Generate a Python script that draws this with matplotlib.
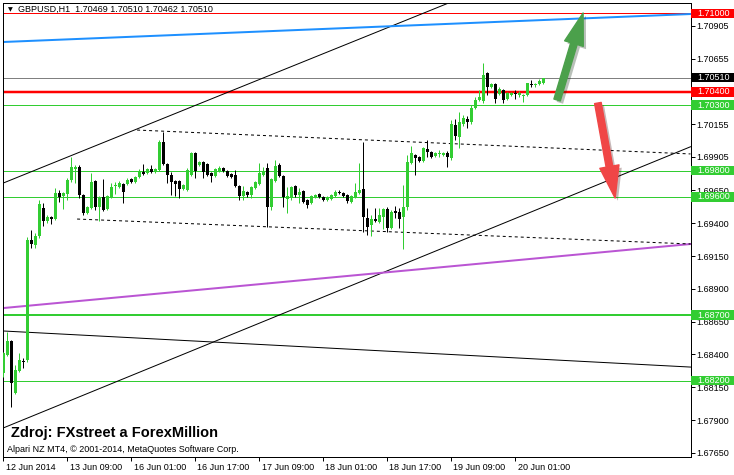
import numpy as np
import matplotlib.pyplot as plt
from matplotlib.patches import Rectangle, FancyArrowPatch
from matplotlib.transforms import blended_transform_factory, ScaledTranslation
import matplotlib.patheffects as pe

plt.rcParams['font.family'] = ['Liberation Sans', 'DejaVu Sans']

# GBPUSD H1 candles, one bar per hour
opens = [1.68259, 1.68396, 1.68503, 1.68106, 1.68274, 1.68350, 1.68358, 1.69272, 1.69234, 1.69303,
         1.69516, 1.69417, 1.69447, 1.69432, 1.69630, 1.69607, 1.69623, 1.69729, 1.69813, 1.69828,
         1.69615, 1.69478, 1.69516, 1.69722, 1.69524, 1.69600, 1.69508, 1.69600, 1.69684, 1.69676,
         1.69699, 1.69699, 1.69737, 1.69714, 1.69752, 1.69790, 1.69783, 1.69813, 1.69790, 1.69806,
         1.70019, 1.69851, 1.69767, 1.69722, 1.69722, 1.69661, 1.69653, 1.69767, 1.69935, 1.69844,
         1.69866, 1.69851, 1.69783, 1.69760, 1.69798, 1.69821, 1.69798, 1.69775, 1.69767, 1.69684,
         1.69607, 1.69638, 1.69615, 1.69668, 1.69699, 1.69767, 1.69821, 1.69524, 1.69722, 1.69844,
         1.69760, 1.69585, 1.69600, 1.69684, 1.69615, 1.69646, 1.69577, 1.69554, 1.69600, 1.69623,
         1.69600, 1.69577, 1.69585, 1.69607, 1.69638, 1.69630, 1.69615, 1.69562, 1.69600, 1.69630,
         1.69661, 1.69440, 1.69386, 1.69432, 1.69409, 1.69447, 1.69508, 1.69364, 1.69493, 1.69485,
         1.69447, 1.69524, 1.69859, 1.69920, 1.69905, 1.69874, 1.69966, 1.69943, 1.69912, 1.69928,
         1.69920, 1.69935, 1.69897, 1.70149, 1.70057, 1.70156, 1.70194, 1.70171, 1.70278, 1.70339,
         1.70331, 1.70545, 1.70438, 1.70461, 1.70385, 1.70415, 1.70347, 1.70377, 1.70392, 1.70377,
         1.70369, 1.70377, 1.70461, 1.70453, 1.70461, 1.70469]
highs = [1.68419, 1.68571, 1.68510, 1.68320, 1.68411, 1.68373, 1.69295, 1.69348, 1.69326, 1.69577,
         1.69554, 1.69463, 1.69455, 1.69668, 1.69653, 1.69638, 1.69745, 1.69905, 1.69844, 1.69844,
         1.69623, 1.69531, 1.69783, 1.69729, 1.69607, 1.69737, 1.69615, 1.69707, 1.69714, 1.69722,
         1.69707, 1.69745, 1.69745, 1.69760, 1.69813, 1.69851, 1.69821, 1.69844, 1.69821, 1.70034,
         1.70095, 1.69859, 1.69790, 1.69729, 1.69729, 1.69699, 1.69821, 1.69943, 1.69943, 1.69874,
         1.69874, 1.69859, 1.69790, 1.69821, 1.69836, 1.69828, 1.69806, 1.69783, 1.69806, 1.69691,
         1.69684, 1.69646, 1.69684, 1.69722, 1.69859, 1.69828, 1.69859, 1.69745, 1.69882, 1.69859,
         1.69767, 1.69676, 1.69684, 1.69691, 1.69668, 1.69653, 1.69585, 1.69615, 1.69623, 1.69630,
         1.69607, 1.69607, 1.69623, 1.69653, 1.69653, 1.69638, 1.69623, 1.69615, 1.69707, 1.69859,
         1.70019, 1.69516, 1.69463, 1.69516, 1.69516, 1.69516, 1.69524, 1.69501, 1.69531, 1.69516,
         1.69691, 1.69920, 1.69988, 1.69928, 1.69912, 1.69981, 1.70034, 1.69950, 1.69943, 1.69958,
         1.69943, 1.69950, 1.70187, 1.70194, 1.70248, 1.70225, 1.70217, 1.70301, 1.70362, 1.70415,
         1.70621, 1.70552, 1.70469, 1.70469, 1.70438, 1.70423, 1.70400, 1.70400, 1.70415, 1.70408,
         1.70385, 1.70469, 1.70491, 1.70469, 1.70499, 1.70510]
lows = [1.68228, 1.68388, 1.68000, 1.68099, 1.68266, 1.68297, 1.68343, 1.69211, 1.69211, 1.69287,
        1.69379, 1.69402, 1.69394, 1.69425, 1.69562, 1.69508, 1.69577, 1.69714, 1.69707, 1.69592,
        1.69463, 1.69470, 1.69508, 1.69501, 1.69417, 1.69493, 1.69501, 1.69592, 1.69623, 1.69668,
        1.69554, 1.69691, 1.69707, 1.69707, 1.69745, 1.69767, 1.69775, 1.69783, 1.69783, 1.69798,
        1.69844, 1.69707, 1.69615, 1.69607, 1.69592, 1.69653, 1.69646, 1.69760, 1.69745, 1.69836,
        1.69745, 1.69760, 1.69714, 1.69752, 1.69790, 1.69790, 1.69752, 1.69745, 1.69676, 1.69577,
        1.69577, 1.69600, 1.69592, 1.69661, 1.69691, 1.69760, 1.69371, 1.69501, 1.69714, 1.69752,
        1.69524, 1.69478, 1.69577, 1.69600, 1.69554, 1.69554, 1.69516, 1.69546, 1.69592, 1.69592,
        1.69569, 1.69569, 1.69577, 1.69600, 1.69623, 1.69600, 1.69554, 1.69554, 1.69592, 1.69623,
        1.69333, 1.69310, 1.69303, 1.69409, 1.69402, 1.69356, 1.69333, 1.69356, 1.69440, 1.69364,
        1.69203, 1.69501, 1.69851, 1.69767, 1.69866, 1.69866, 1.69905, 1.69897, 1.69905, 1.69905,
        1.69912, 1.69828, 1.69882, 1.70034, 1.69973, 1.70141, 1.70126, 1.70156, 1.70270, 1.70331,
        1.70316, 1.70377, 1.70430, 1.70316, 1.70377, 1.70316, 1.70339, 1.70369, 1.70347, 1.70362,
        1.70324, 1.70369, 1.70438, 1.70438, 1.70453, 1.70462]
closes = [1.68411, 1.68503, 1.68183, 1.68282, 1.68358, 1.68343, 1.69272, 1.69242, 1.69303, 1.69546,
          1.69417, 1.69447, 1.69432, 1.69630, 1.69600, 1.69630, 1.69729, 1.69828, 1.69828, 1.69615,
          1.69478, 1.69524, 1.69714, 1.69524, 1.69600, 1.69501, 1.69607, 1.69676, 1.69691, 1.69707,
          1.69638, 1.69729, 1.69714, 1.69752, 1.69798, 1.69775, 1.69813, 1.69790, 1.69813, 1.70019,
          1.69851, 1.69767, 1.69714, 1.69699, 1.69661, 1.69691, 1.69806, 1.69935, 1.69798, 1.69866,
          1.69790, 1.69767, 1.69760, 1.69813, 1.69821, 1.69798, 1.69760, 1.69752, 1.69684, 1.69607,
          1.69646, 1.69615, 1.69676, 1.69714, 1.69783, 1.69790, 1.69524, 1.69737, 1.69836, 1.69760,
          1.69600, 1.69607, 1.69676, 1.69615, 1.69638, 1.69562, 1.69539, 1.69607, 1.69615, 1.69600,
          1.69577, 1.69600, 1.69615, 1.69638, 1.69630, 1.69607, 1.69569, 1.69607, 1.69638, 1.69653,
          1.69447, 1.69371, 1.69432, 1.69417, 1.69463, 1.69508, 1.69364, 1.69485, 1.69478, 1.69432,
          1.69524, 1.69866, 1.69935, 1.69897, 1.69874, 1.69973, 1.69943, 1.69905, 1.69935, 1.69935,
          1.69935, 1.69905, 1.70156, 1.70065, 1.70171, 1.70202, 1.70171, 1.70278, 1.70339, 1.70362,
          1.70530, 1.70438, 1.70461, 1.70347, 1.70423, 1.70339, 1.70392, 1.70392, 1.70385, 1.70392,
          1.70377, 1.70469, 1.70453, 1.70461, 1.70484, 1.70510]

time_ticks = [0, 16, 32, 48, 64, 80, 96, 112, 128]
time_labels = ['12 Jun 2014', '13 Jun 09:00', '16 Jun 01:00', '16 Jun 17:00', '17 Jun 09:00',
               '18 Jun 01:00', '18 Jun 17:00', '19 Jun 09:00', '20 Jun 01:00']
price_ticks = [1.70905, 1.70655, 1.70405, 1.70155, 1.69905, 1.69650, 1.69400,
               1.69150, 1.68900, 1.68650, 1.68400, 1.68150, 1.67900, 1.67650]

# horizontal levels: price, colour, width (px), label box colour
levels = [1.71000, 1.70510, 1.70400, 1.70300, 1.69800, 1.69600, 1.68700, 1.68200]
level_colors = ['#ff0000', '#808080', '#ff0000', '#32cd32', '#32cd32', '#32cd32', '#32cd32', '#32cd32']
level_widths = [1, 1, 2.5, 1, 1, 1, 2, 1]
box_colors = ['#ff0000', '#000000', '#ff0000', '#32cd32', '#32cd32', '#32cd32', '#32cd32', '#32cd32']

# trend lines through two points (bar index, price)
trend_lines = [((0, 1.69707), (100, 1.70939), 'black', 1),
               ((0, 1.67841), (100, 1.69088), 'black', 1),
               ((0, 1.68579), (100, 1.68419), 'black', 1),
               ((0, 1.70781), (100, 1.70905), '#1e90ff', 2),
               ((0, 1.68754), (100, 1.69038), '#ba55d3', 2)]
dashed_lines = [((33.4, 1.70110), (171.75, 1.69928)),
                ((18.4, 1.69432), (171.75, 1.69242))]

up_arrow = ((138.4, 1.70339), (144.9, 1.71002))
down_arrow = ((148.6, 1.70316), (152.9, 1.69592))

W, H = 734, 475
fig = plt.figure(figsize=(W / 100, H / 100), dpi=100)
ax = fig.add_axes([3 / W, (H - 457) / H, 687.5 / W, 454 / H])
px = 0.72  # one pixel in points

ax.set_xlim(-0.125, 171.75)
ax.set_ylim(1.67619, 1.71078)

for lv, c, w in zip(levels, level_colors, level_widths):
    ax.axhline(lv, color=c, lw=w * px, zorder=1)

for p1, p2, c, w in trend_lines:
    ax.axline(p1, p2, color=c, lw=w * px, zorder=1)

for p1, p2 in dashed_lines:
    ax.plot([p1[0], p2[0]], [p1[1], p2[1]], color='black', lw=px,
            linestyle=(0, (3, 3)), zorder=1)

# candles
o = np.array(opens)
h = np.array(highs)
l = np.array(lows)
c = np.array(closes)
x = np.arange(len(o))
cols = np.where(c >= o, '#32cd32', '#000000')
ax.vlines(x, l, h, colors=cols, lw=px, zorder=3)
body = np.maximum(np.abs(c - o), 0.00006)
ax.bar(x, body, bottom=np.minimum(o, c), width=0.75, color=cols, linewidth=0, zorder=3)

# arrows
for (tail, tip), col in [(up_arrow, '#4ba04b'), (down_arrow, '#f04646')]:
    arr = FancyArrowPatch(tail, tip, arrowstyle='simple,head_length=1.15,head_width=0.7,tail_width=0.24',
                          mutation_scale=20, color=col, shrinkA=0, shrinkB=0, zorder=4,
                          path_effects=[pe.SimplePatchShadow(offset=(2, -2), alpha=0.3), pe.Normal()])
    ax.add_patch(arr)

# axes
for s in ax.spines.values():
    s.set_color('black')
    s.set_linewidth(px)
ax.yaxis.tick_right()
ax.set_yticks(price_ticks)
ax.set_yticklabels(['%.5f' % p for p in price_ticks])
ax.set_xticks(time_ticks)
ax.set_xticklabels(time_labels)
ax.tick_params(axis='both', length=3, width=px, color='black', labelsize=6.5, pad=1.5)
off = ScaledTranslation(2 / 100, 0, fig.dpi_scale_trans)
for lab in ax.get_xticklabels():
    lab.set_ha('left')
    lab.set_transform(lab.get_transform() + off)

# price label boxes on the right
blend = blended_transform_factory(ax.transAxes, ax.transData)
hh = 0.00036
for lv, bc in zip(levels, box_colors):
    ax.add_patch(Rectangle((1.001, lv - hh), 0.063, 2 * hh, transform=blend,
                           facecolor=bc, edgecolor='none', clip_on=False, zorder=6))
    ax.text(1.0095, lv, '%.5f' % lv, transform=blend, color='white', fontsize=6.5,
            va='center', ha='left', clip_on=False, zorder=7)

# texts
fig.text(8 / W, 1 - 10 / H, '\u25bc', fontsize=4.5, family='DejaVu Sans', va='center')
fig.text(18 / W, 1 - 9.5 / H, 'GBPUSD,H1  1.70469 1.70510 1.70462 1.70510',
         fontsize=6.5, va='center')
fig.text(11 / W, 1 - 433 / H, 'Zdroj: FXstreet a ForexMillion', fontsize=10.5,
         fontweight='bold', va='center')
fig.text(7 / W, 1 - 450 / H, 'Alpari NZ MT4, \u00a9 2001-2014, MetaQuotes Software Corp.',
         fontsize=6.5, va='center')

fig.savefig('out.png', dpi=100)
